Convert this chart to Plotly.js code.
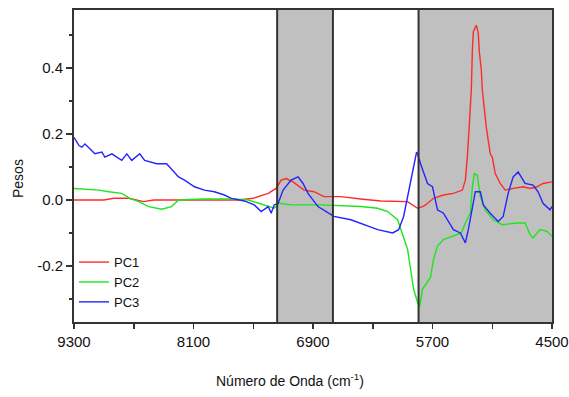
<!DOCTYPE html>
<html>
<head>
<meta charset="utf-8">
<script src="https://cdn.plot.ly/plotly-3.0.1.min.js"></script>
<style>html,body{margin:0;padding:0;background:#fff;}#chart{width:569px;height:397px;}</style>
</head>
<body>
<div id="chart"></div>
<script>
// Wavenumbers (cm-1) and loadings
const pc1X = [9300, 9000, 8900, 8750, 8600, 8500, 8300, 7950, 7650, 7500, 7350, 7270, 7220, 7170, 7100, 6990, 6890, 6790, 6620, 6420, 6220, 5950, 5850, 5800, 5770, 5690, 5590, 5490, 5400, 5370, 5350, 5330, 5310, 5300, 5290, 5260, 5240, 5230, 5210, 5200, 5180, 5160, 5140, 5120, 5100, 5070, 5020, 4970, 4890, 4790, 4720, 4650, 4590, 4500];
const pc1Y = [0.0, 0.0, 0.005, 0.005, -0.005, 0.0, 0.0, 0.0, 0.0, 0.005, 0.02, 0.035, 0.06, 0.065, 0.055, 0.03, 0.025, 0.01, 0.01, 0.003, -0.003, -0.005, -0.025, -0.02, -0.015, 0.005, 0.015, 0.02, 0.03, 0.06, 0.13, 0.23, 0.335, 0.45, 0.51, 0.53, 0.505, 0.45, 0.395, 0.335, 0.275, 0.22, 0.18, 0.14, 0.13, 0.08, 0.05, 0.03, 0.035, 0.04, 0.035, 0.04, 0.05, 0.055];

const pc2X = [9300, 9200, 9050, 8950, 8820, 8740, 8650, 8550, 8420, 8320, 8250, 8000, 7700, 7550, 7450, 7350, 7290, 7240, 7120, 6820, 6420, 6250, 6150, 6050, 5990, 5950, 5920, 5890, 5850, 5830, 5800, 5750, 5720, 5690, 5650, 5590, 5490, 5410, 5370, 5320, 5300, 5280, 5250, 5220, 5170, 5090, 5000, 4850, 4770, 4720, 4690, 4620, 4550, 4500];
const pc2Y = [0.035, 0.033, 0.03, 0.025, 0.02, 0.005, -0.005, -0.02, -0.028, -0.02, 0.0, 0.003, 0.003, 0.0, -0.01, -0.02, -0.025, -0.01, -0.015, -0.015, -0.02, -0.025, -0.035, -0.06, -0.11, -0.15, -0.21, -0.27, -0.31, -0.325, -0.27, -0.25, -0.235, -0.18, -0.14, -0.12, -0.11, -0.1, -0.07, -0.04, 0.04, 0.08, 0.075, 0.01, -0.03, -0.06, -0.075, -0.07, -0.07, -0.105, -0.115, -0.09, -0.095, -0.11];

const pc3X = [9300, 9250, 9220, 9190, 9090, 9020, 8990, 8920, 8820, 8770, 8720, 8640, 8590, 8470, 8370, 8250, 8190, 8090, 7990, 7890, 7790, 7720, 7590, 7490, 7420, 7350, 7320, 7290, 7250, 7200, 7120, 7050, 7000, 6950, 6850, 6750, 6690, 6520, 6390, 6250, 6100, 6040, 5990, 5940, 5890, 5860, 5850, 5820, 5750, 5700, 5650, 5590, 5490, 5420, 5370, 5340, 5300, 5270, 5220, 5190, 5120, 5040, 4990, 4940, 4890, 4840, 4770, 4690, 4640, 4590, 4520, 4500];
const pc3Y = [0.19, 0.165, 0.16, 0.17, 0.14, 0.145, 0.13, 0.14, 0.12, 0.14, 0.12, 0.14, 0.12, 0.11, 0.11, 0.07, 0.06, 0.04, 0.03, 0.025, 0.015, 0.005, -0.003, -0.015, -0.035, -0.02, -0.04, -0.015, -0.01, 0.03, 0.06, 0.07, 0.05, 0.02, -0.02, -0.04, -0.05, -0.06, -0.075, -0.09, -0.1, -0.09, -0.05, 0.03, 0.1, 0.145, 0.14, 0.11, 0.05, 0.04, -0.03, -0.04, -0.09, -0.1, -0.13, -0.09, -0.03, 0.025, 0.025, -0.015, -0.04, -0.065, -0.05, 0.02, 0.07, 0.085, 0.05, 0.045, 0.025, -0.01, -0.03, -0.02];

const seriesNames = ['PC1', 'PC2', 'PC3'];
const xTickVals = [9300, 8100, 6900, 5700, 4500];
const xTickText = ['9300', '8100', '6900', '5700', '4500'];
const xMinorVals = [8700, 7500, 6300, 5100];
const yTickVals = [-0.2, 0.0, 0.2, 0.4];
const yTickText = ['-0.2', '0.0', '0.2', '0.4'];
const yMinorVals = [-0.3, -0.1, 0.1, 0.3, 0.5];
// shaded spectral regions (cm-1)
const shadedRegions = [[7260, 6700], [5840, 4500]];
const boundaryLines = [7260, 6700, 5840];

const colors = ['#ff2a2a', '#1ee61e', '#2424ff'];
const xs = [pc1X, pc2X, pc3X];
const ys = [pc1Y, pc2Y, pc3Y];

const traces = seriesNames.map((n, i) => ({
  x: xs[i], y: ys[i], name: n, type: 'scatter', mode: 'lines',
  line: {color: colors[i], width: 1.4}
}));

const shapes = [];
shadedRegions.forEach(r => shapes.push({
  type: 'rect', xref: 'x', yref: 'paper', x0: r[0], x1: r[1], y0: 0, y1: 1,
  fillcolor: '#c0c0c0', line: {width: 0}, layer: 'below'
}));
boundaryLines.forEach(v => shapes.push({
  type: 'line', xref: 'x', yref: 'paper', x0: v, x1: v, y0: 0, y1: 1,
  line: {color: '#333', width: 2}, layer: 'above'
}));

const fontFam = '"Liberation Sans", Arial, sans-serif';
const layout = {
  width: 569, height: 397,
  margin: {l: 74, r: 17, t: 10, b: 75},
  paper_bgcolor: '#fff', plot_bgcolor: '#fff',
  showlegend: true,
  font: {family: fontFam, size: 14, color: '#111'},
  xaxis: {
    range: [9300, 4500], showgrid: false, zeroline: false,
    showline: true, mirror: true, linecolor: '#333', linewidth: 2,
    tickmode: 'array', tickvals: xTickVals, ticktext: xTickText,
    ticks: 'outside', ticklen: 5, tickcolor: '#333', tickwidth: 1.5,
    tickfont: {size: 15},
    minor: {tickmode: 'array', tickvals: xMinorVals, ticks: 'outside', ticklen: 5, tickcolor: '#333', tickwidth: 1.5}
  },
  yaxis: {
    range: [-0.37, 0.576], showgrid: false, zeroline: false,
    showline: true, mirror: true, linecolor: '#333', linewidth: 2,
    tickmode: 'array', tickvals: yTickVals, ticktext: yTickText,
    ticks: 'outside', ticklen: 6, tickcolor: '#333', tickwidth: 1.5,
    tickfont: {size: 15},
    minor: {tickmode: 'array', tickvals: yMinorVals, ticks: 'outside', ticklen: 3, tickcolor: '#333', tickwidth: 1.5}
  },
  legend: {
    x: 0.0, y: 0.24, xanchor: 'left', yanchor: 'top',
    bgcolor: 'rgba(0,0,0,0)', borderwidth: 0,
    font: {size: 13, color: '#111'}, tracegroupgap: 0
  },
  shapes: shapes,
  annotations: [
    {text: 'Número de Onda (cm<sup>-1</sup>)', xref: 'paper', yref: 'paper',
     x: 0.452, y: -0.186, xanchor: 'center', yanchor: 'middle', showarrow: false,
     font: {size: 14, color: '#111'}},
    {text: 'Pesos', xref: 'paper', yref: 'paper', x: -0.116, y: 0.46,
     xanchor: 'center', yanchor: 'middle', textangle: -90, showarrow: false,
     font: {size: 14, color: '#111'}}
  ]
};

Plotly.newPlot('chart', traces, layout, {displayModeBar: false, staticPlot: true});
</script>
</body>
</html>
